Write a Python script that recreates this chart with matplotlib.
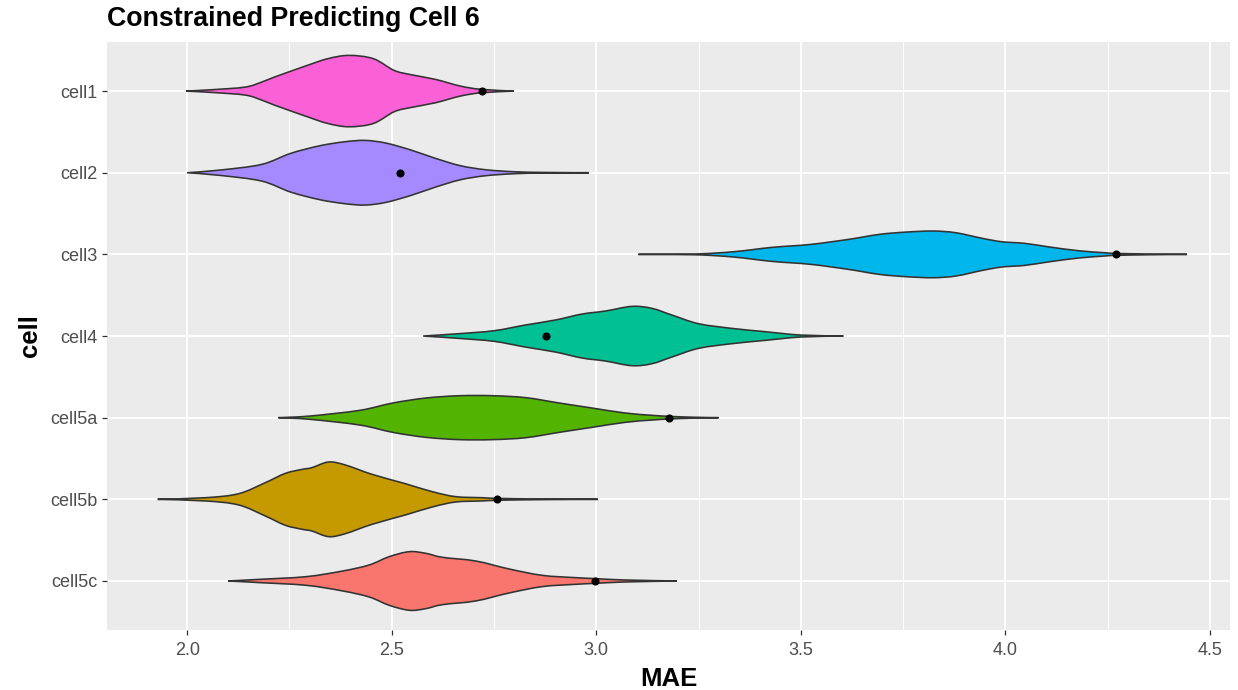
import matplotlib
matplotlib.use("Agg")
import matplotlib.pyplot as plt
from matplotlib.path import Path
from matplotlib.patches import PathPatch
import numpy as np

plt.rcParams["font.family"] = ["Liberation Sans", "DejaVu Sans"]

# ---- data (MAE, half-width of violin in category units) ----
cells = ["cell1", "cell2", "cell3", "cell4", "cell5a", "cell5b", "cell5c"]
colors = ["#FB61D7", "#A58AFF", "#00B6EB", "#00C094", "#53B400", "#C49A00", "#F8766D"]

cell1_mae = [1.997, 2.061, 2.142, 2.182, 2.213, 2.294, 2.344, 2.395, 2.455, 2.506, 2.547, 2.607, 2.668, 2.719, 2.798]
cell1_hw = [0.0, 0.017, 0.049, 0.11, 0.171, 0.315, 0.397, 0.437, 0.397, 0.253, 0.201, 0.143, 0.061, 0.021, 0.0]

cell2_mae = [2.000, 2.081, 2.182, 2.253, 2.324, 2.385, 2.435, 2.486, 2.547, 2.607, 2.668, 2.729, 2.800, 2.870, 2.982]
cell2_hw = [0.0, 0.033, 0.102, 0.237, 0.330, 0.379, 0.396, 0.363, 0.278, 0.176, 0.086, 0.037, 0.012, 0.004, 0.0]

cell3_mae = [3.103, 3.243, 3.337, 3.430, 3.524, 3.617, 3.692, 3.757, 3.823, 3.879, 3.944, 3.991,
             4.047, 4.103, 4.178, 4.243, 4.271, 4.346, 4.444]
cell3_hw = [0.0, 0.005, 0.033, 0.086, 0.122, 0.184, 0.245, 0.273, 0.286, 0.265, 0.196, 0.155,
            0.135, 0.094, 0.045, 0.020, 0.012, 0.005, 0.0]

cell4_mae = [2.577, 2.665, 2.750, 2.827, 2.900, 2.965, 3.022, 3.087, 3.136, 3.185, 3.250, 3.331, 3.413, 3.500, 3.604]
cell4_hw = [0.0, 0.029, 0.065, 0.135, 0.196, 0.269, 0.306, 0.363, 0.339, 0.257, 0.151, 0.094, 0.053, 0.012, 0.0]

cell5a_mae = [2.223, 2.300, 2.422, 2.503, 2.584, 2.666, 2.747, 2.828, 2.909, 2.990, 3.071, 3.136, 3.179, 3.234, 3.299]
cell5a_hw = [0.0, 0.020, 0.090, 0.180, 0.241, 0.269, 0.269, 0.245, 0.180, 0.118, 0.057, 0.029, 0.016, 0.006, 0.0]

cell5b_mae = [1.928, 2.045, 2.126, 2.191, 2.240, 2.281, 2.305, 2.346, 2.387, 2.452, 2.533, 2.599,
              2.656, 2.721, 2.757, 2.859, 3.004]
cell5b_hw = [0.0, 0.020, 0.069, 0.204, 0.318, 0.367, 0.388, 0.457, 0.420, 0.306, 0.192, 0.094,
             0.033, 0.020, 0.012, 0.004, 0.0]

cell5c_mae = [2.100, 2.177, 2.291, 2.380, 2.445, 2.494, 2.543, 2.583, 2.624, 2.705, 2.787, 2.868,
              2.949, 2.998, 3.071, 3.197]
cell5c_hw = [0.0, 0.020, 0.053, 0.122, 0.196, 0.298, 0.359, 0.339, 0.290, 0.245, 0.147, 0.069,
             0.041, 0.029, 0.012, 0.0]

# black points (one per cell)
point_mae = [2.72, 2.52, 4.27, 2.878, 3.179, 2.757, 2.998]

profiles = [
    (cell1_mae, cell1_hw), (cell2_mae, cell2_hw), (cell3_mae, cell3_hw), (cell4_mae, cell4_hw),
    (cell5a_mae, cell5a_hw), (cell5b_mae, cell5b_hw), (cell5c_mae, cell5c_hw),
]


def smooth_segments(xs, ys):
    # cubic bezier pieces through the read points (catmull-rom tangents)
    pts = np.column_stack([xs, ys])
    n = len(pts)
    verts, codes = [], []
    for i in range(n - 1):
        p0 = pts[i - 1] if i > 0 else pts[i]
        p1, p2 = pts[i], pts[i + 1]
        p3 = pts[i + 2] if i + 2 < n else pts[i + 1]
        c1 = p1 + (p2 - p0) / 6.0
        c2 = p2 - (p3 - p1) / 6.0
        verts += [c1, c2, p2]
        codes += [Path.CURVE4] * 3
    return verts, codes


# ---- figure ----
fig = plt.figure(figsize=(12.38, 6.9), dpi=100)
ax = fig.add_axes([0.0864, 0.087, 0.9071, 0.852])
ax.set_facecolor("#EBEBEB")

n = len(cells)
ypos = {c: n - i for i, c in enumerate(cells)}  # cell1 on top

for c, col, (xs, hw), pt in zip(cells, colors, profiles, point_mae):
    y0 = ypos[c]
    xs = np.array(xs)
    hw = np.array(hw)
    verts = [(xs[0], y0)]
    codes = [Path.MOVETO]
    v, k = smooth_segments(xs, y0 + hw)
    verts += v
    codes += k
    v, k = smooth_segments(xs[::-1], (y0 - hw)[::-1])
    verts += v
    codes += k
    verts.append((xs[0], y0))
    codes.append(Path.CLOSEPOLY)
    patch = PathPatch(Path(verts, codes), facecolor=col, edgecolor="#333333",
                      linewidth=1.15, zorder=3)
    ax.add_patch(patch)
    ax.scatter([pt], [y0], s=34, color="black", zorder=4, linewidths=0)

ax.set_xlim(1.804, 4.549)
ax.set_ylim(0.4, n + 0.6)

major = [2.0, 2.5, 3.0, 3.5, 4.0, 4.5]
minor = [2.25, 2.75, 3.25, 3.75, 4.25]
ax.set_xticks(major)
ax.set_xticklabels(["2.0", "2.5", "3.0", "3.5", "4.0", "4.5"])
ax.set_xticks(minor, minor=True)
ax.set_yticks([ypos[c] for c in cells])
ax.set_yticklabels(cells)

ax.grid(which="major", color="white", linewidth=1.3, zorder=0)
ax.grid(which="minor", axis="x", color="white", linewidth=0.65, zorder=0)
ax.set_axisbelow(True)
for s in ax.spines.values():
    s.set_visible(False)

ax.tick_params(axis="both", which="major", length=3.5, width=0.9, color="#333333",
               labelcolor="#4D4D4D", labelsize=13, pad=3)
ax.tick_params(axis="x", which="major", pad=5)
ax.tick_params(axis="both", which="minor", length=0)

ax.set_xlabel("MAE", fontsize=18.5, fontweight="bold", labelpad=6)
ax.set_ylabel("cell", fontsize=18.5, fontweight="bold", labelpad=6)
fig.text(0.0864, 0.972, "Constrained Predicting Cell 6", fontsize=19.3, fontweight="bold",
         ha="left", va="center")

fig.savefig("out.png", dpi=100)
